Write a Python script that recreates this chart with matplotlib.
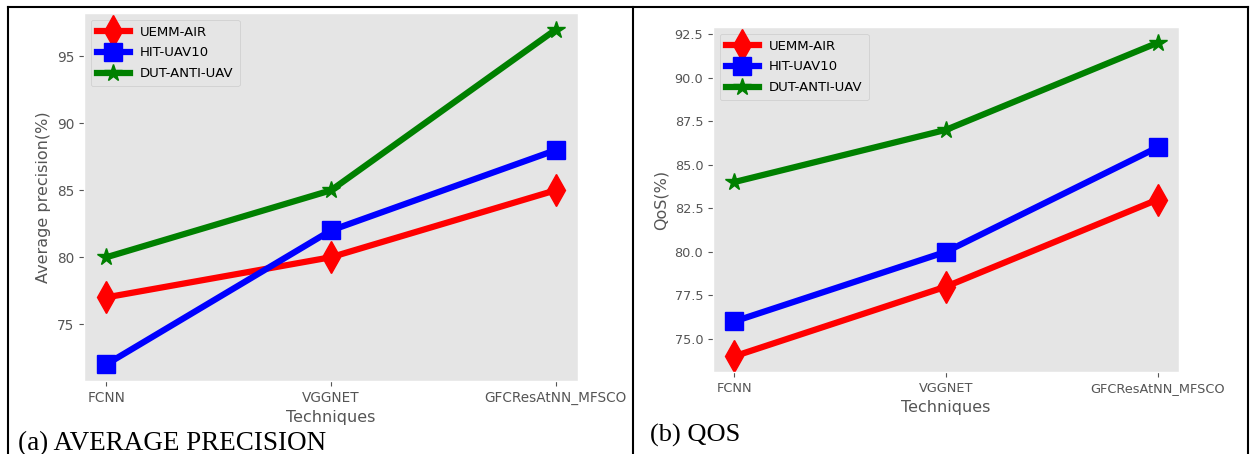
import matplotlib.pyplot as plt
from matplotlib.lines import Line2D

plt.style.use("ggplot")

techniques = ["FCNN", "VGGNET", "GFCResAtNN_MFSCO"]
series_names = ["UEMM-AIR", "HIT-UAV10", "DUT-ANTI-UAV"]

# (a) Average precision (%)
ap_uemm = [77, 80, 85]
ap_hit = [72, 82, 88]
ap_dut = [80, 85, 97]

# (b) QoS (%)
qos_uemm = [74, 78, 83]
qos_hit = [76, 80, 86]
qos_dut = [84, 87, 92]

colors = ["red", "blue", "green"]
markers = ["d", "s", "*"]
msizes = [16, 13, 13]

W, H = 1250, 454
fig = plt.figure(figsize=(W / 100, H / 100), dpi=100)
fig.patch.set_facecolor("white")


def box(x0, y0, x1, y1):
    return [x0 / W, 1 - y1 / H, (x1 - x0) / W, (y1 - y0) / H]


def panel(ax, data, ylabel, fs_tick):
    x = range(len(techniques))
    for vals, name, c, m, ms in zip(data, series_names, colors, markers, msizes):
        ax.plot(x, vals, color=c, marker=m, markersize=ms, linewidth=4.5, label=name)
    ax.set_xticks(list(x))
    ax.set_xticklabels(techniques)
    ax.grid(False)
    ax.set_facecolor("#E5E5E5")
    ax.tick_params(labelsize=fs_tick, colors="#555555")
    ax.set_xlabel("Techniques", fontsize=11.5, color="#555555")
    ax.set_ylabel(ylabel, fontsize=11.5, color="#555555")
    ax.legend(loc="upper left", fontsize=9.5, facecolor="#E5E5E5",
              edgecolor="#CCCCCC", framealpha=1, handlelength=2.5,
              borderpad=0.45, labelspacing=0.6)


ax1 = fig.add_axes(box(84, 13, 578, 381))
panel(ax1, [ap_uemm, ap_hit, ap_dut], "Average precision(%)", 9.8)

ax2 = fig.add_axes(box(713, 27, 1179, 372))
panel(ax2, [qos_uemm, qos_hit, qos_dut], "QoS(%)", 9.3)

# table borders around the two sub-figures
for xs, ys in [([8, 1248], [7, 7]), ([8, 8], [7, 454]), ([633, 633], [7, 454]),
               ([1248, 1248], [7, 454])]:
    fig.add_artist(Line2D([v / W for v in xs], [1 - v / H for v in ys],
                          color="black", linewidth=1.5))

fig.text(18 / W, 1 - 444 / H, "(a) AVERAGE PRECISION", fontsize=19.5,
         family="Liberation Serif", va="center", color="black")
fig.text(650 / W, 1 - 435 / H, "(b) QOS", fontsize=19,
         family="Liberation Serif", va="center", color="black")

fig.savefig("out.png", dpi=100)
